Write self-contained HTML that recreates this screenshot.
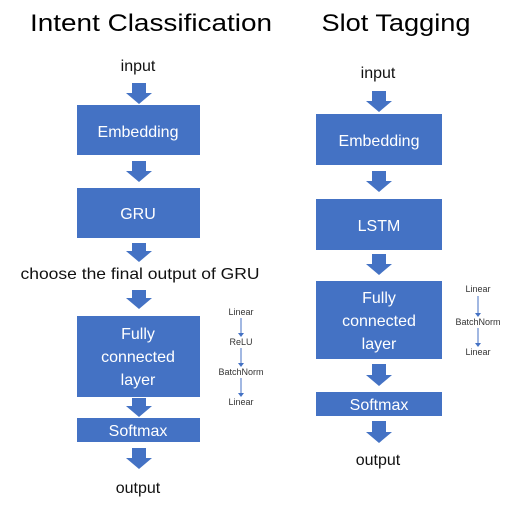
<!DOCTYPE html>
<html><head><meta charset="utf-8"><style>
html,body{margin:0;padding:0;background:#fff;}
svg{display:block;}
text{font-family:"Liberation Sans",sans-serif;}
</style></head><body>
<svg width="523" height="509" viewBox="0 0 523 509" xmlns="http://www.w3.org/2000/svg">
<defs>
<symbol id="ar" viewBox="0 0 26 22" overflow="visible">
</symbol>
</defs>
<g fill="#4472C4">
<!-- left boxes -->
<rect x="77" y="105" width="123" height="50"/>
<rect x="77" y="188" width="123" height="50"/>
<rect x="77" y="316" width="123" height="81"/>
<rect x="77" y="418" width="123" height="24"/>
<!-- right boxes -->
<rect x="316" y="114" width="126" height="51"/>
<rect x="316" y="199" width="126" height="51"/>
<rect x="316" y="281" width="126" height="78"/>
<rect x="316" y="392" width="126" height="24"/>
</g>
<g fill="#4472C4">
<!-- fat arrows: function(cx, y1, y2) -->
<path d="M132,83 h14 v10 h6 l-13,11 l-13,-11 h6 z"/>
<path d="M132,161 h14 v10 h6 l-13,11 l-13,-11 h6 z"/>
<path d="M132,243 h14 v8 h6 l-13,11 l-13,-11 h6 z"/>
<path d="M132,290 h14 v8 h6 l-13,11 l-13,-11 h6 z"/>
<path d="M132,398 h14 v8 h6 l-13,11 l-13,-11 h6 z"/>
<path d="M132,448 h14 v10 h6 l-13,11 l-13,-11 h6 z"/>
<path d="M372,91 h14 v10 h6 l-13,11 l-13,-11 h6 z"/>
<path d="M372,171 h14 v10 h6 l-13,11 l-13,-11 h6 z"/>
<path d="M372,254 h14 v10 h6 l-13,11 l-13,-11 h6 z"/>
<path d="M372,364 h14 v11 h6 l-13,11 l-13,-11 h6 z"/>
<path d="M372,421 h14 v11 h6 l-13,11 l-13,-11 h6 z"/>
</g>
<!-- titles -->
<text x="151" y="31" font-size="24" text-anchor="middle" fill="#000" textLength="242" lengthAdjust="spacingAndGlyphs">Intent Classification</text>
<text x="396" y="31" font-size="24" text-anchor="middle" fill="#000" textLength="149" lengthAdjust="spacingAndGlyphs">Slot Tagging</text>
<!-- plain labels -->
<g font-size="16" fill="#111" text-anchor="middle">
<text x="138" y="71">input</text>
<text x="140" y="279" textLength="239" lengthAdjust="spacingAndGlyphs">choose the final output of GRU</text>
<text x="138" y="493">output</text>
<text x="378" y="78">input</text>
<text x="378" y="465">output</text>
</g>
<!-- box labels -->
<g fill="#fff" text-anchor="middle" font-size="16">
<text x="138" y="137">Embedding</text>
<text x="138" y="219">GRU</text>
<text x="138" y="339">Fully</text>
<text x="138" y="362">connected</text>
<text x="138" y="385">layer</text>
<text x="138" y="436">Softmax</text>
<text x="379" y="146">Embedding</text>
<text x="379" y="231">LSTM</text>
<text x="379" y="303">Fully</text>
<text x="379" y="326">connected</text>
<text x="379" y="349">layer</text>
<text x="379" y="410">Softmax</text>
</g>
<!-- small side labels -->
<g font-size="9" fill="#333" text-anchor="middle">
<text x="241" y="315">Linear</text>
<text x="241" y="345">ReLU</text>
<text x="241" y="375">BatchNorm</text>
<text x="241" y="405">Linear</text>
<text x="478" y="292">Linear</text>
<text x="478" y="325">BatchNorm</text>
<text x="478" y="355">Linear</text>
</g>
<g stroke="#4472C4" stroke-width="1">
<line x1="241" y1="318" x2="241" y2="334"/>
<line x1="241" y1="348" x2="241" y2="364"/>
<line x1="241" y1="378" x2="241" y2="394"/>
<line x1="478" y1="296" x2="478" y2="314"/>
<line x1="478" y1="328" x2="478" y2="344"/>
</g>
<g fill="#4472C4">
<path d="M238,333 h6 l-3,4 z"/>
<path d="M238,363 h6 l-3,4 z"/>
<path d="M238,393 h6 l-3,4 z"/>
<path d="M475,313 h6 l-3,4 z"/>
<path d="M475,343 h6 l-3,4 z"/>
</g>
</svg>
</body></html>
